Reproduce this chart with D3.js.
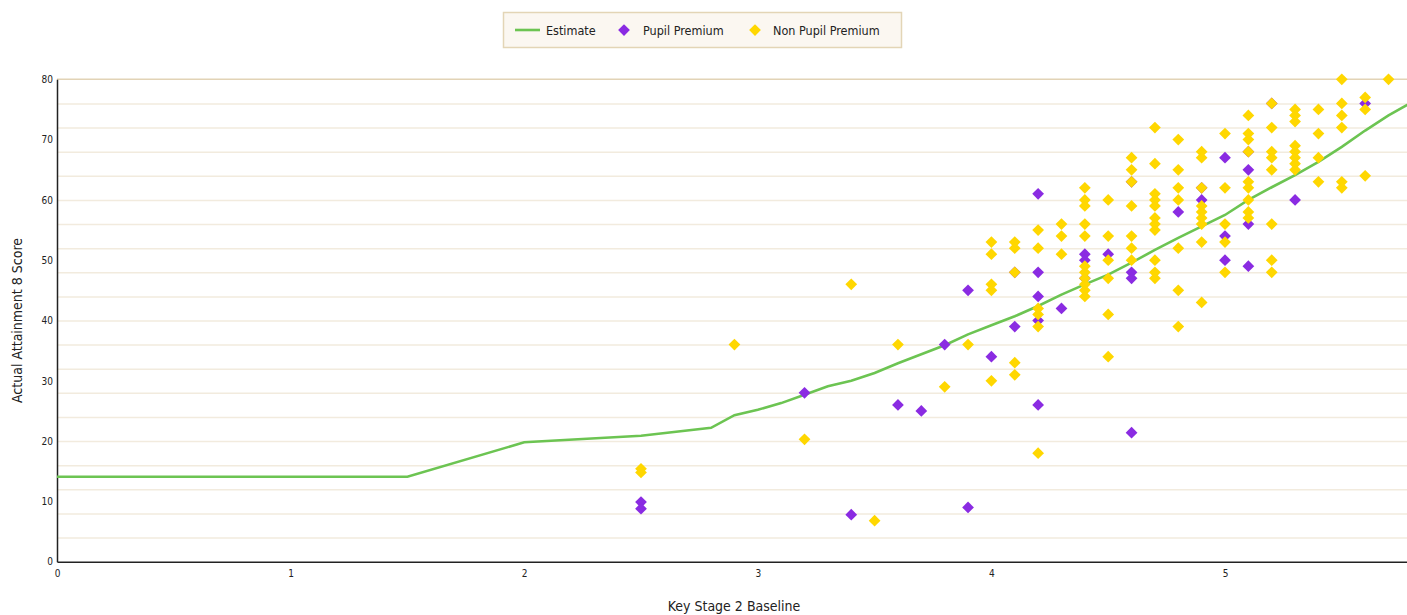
<!DOCTYPE html>
<html>
<head>
<meta charset="utf-8">
<script src="https://cdn.jsdelivr.net/npm/d3@7"></script>
<style>
  html, body { margin: 0; padding: 0; background: #fff; }
  svg { display: block; }
  .tick text { font-family: "DejaVu Sans Condensed", "DejaVu Sans", sans-serif; font-size: 10px; fill: #222; }
  .title { font-family: "DejaVu Sans Condensed", "DejaVu Sans", sans-serif; font-size: 14px; fill: #222; }
  .legend text { font-family: "DejaVu Sans Condensed", "DejaVu Sans", sans-serif; font-size: 12.5px; fill: #222; }
</style>
</head>
<body>
<svg id="chart" width="1407" height="615"></svg>
<script>
// values
var xTicks = [0, 1, 2, 3, 4, 5];
var yTicks = [0, 10, 20, 30, 40, 50, 60, 70, 80];
var gridTicks = [4, 8, 12, 16, 20, 24, 28, 32, 36, 40, 44, 48, 52, 56, 60, 64, 68, 72, 76];

var estimate = [
  [0, 14.1], [1.5, 14.1], [2.0, 19.8], [2.5, 20.9], [2.8, 22.2], [2.9, 24.3],
  [3.0, 25.2], [3.1, 26.3], [3.2, 27.7], [3.3, 29.1], [3.4, 30.0], [3.5, 31.3],
  [3.6, 32.9], [3.7, 34.4], [3.8, 35.9], [3.9, 37.7], [4.0, 39.2], [4.1, 40.7],
  [4.2, 42.4], [4.3, 44.3], [4.4, 46.0], [4.5, 47.6], [4.6, 49.6], [4.7, 51.7],
  [4.8, 53.7], [4.9, 55.6], [5.0, 57.5], [5.1, 60.0], [5.2, 62.1], [5.3, 64.1],
  [5.4, 66.3], [5.5, 68.8], [5.6, 71.5], [5.7, 74.0], [5.8, 76.2]
];

var pupilPremium = [
  [2.5, 9.9], [2.5, 8.8], [3.2, 28], [3.4, 7.8], [3.6, 26], [3.7, 25], [3.8, 36],
  [3.9, 45], [3.9, 9], [4.0, 34], [4.1, 39], [4.1, 48],
  [4.2, 61], [4.2, 48], [4.2, 44], [4.2, 40], [4.2, 26], [4.3, 42],
  [4.4, 51], [4.4, 50], [4.4, 47], [4.5, 51],
  [4.6, 63], [4.6, 48], [4.6, 47], [4.6, 21.4], [4.8, 58],
  [4.9, 62], [4.9, 60], [5.0, 67], [5.0, 54], [5.0, 50],
  [5.1, 68], [5.1, 65], [5.1, 56], [5.1, 49], [5.2, 76], [5.3, 60], [5.6, 76]
];

var nonPupilPremium = [
  [2.5, 15.4], [2.5, 14.8], [2.9, 36], [3.2, 20.3], [3.4, 46], [3.5, 6.8],
  [3.6, 36], [3.8, 29], [3.9, 36],
  [4.0, 53], [4.0, 51], [4.0, 46], [4.0, 45], [4.0, 30],
  [4.1, 53], [4.1, 52], [4.1, 48], [4.1, 33], [4.1, 31],
  [4.2, 55], [4.2, 52], [4.2, 42], [4.2, 41], [4.2, 39], [4.2, 18],
  [4.3, 56], [4.3, 54], [4.3, 51],
  [4.4, 62], [4.4, 60], [4.4, 59], [4.4, 56], [4.4, 54], [4.4, 49], [4.4, 48],
  [4.4, 47], [4.4, 46], [4.4, 45], [4.4, 44],
  [4.5, 60], [4.5, 54], [4.5, 50], [4.5, 47], [4.5, 41], [4.5, 34],
  [4.6, 67], [4.6, 65], [4.6, 63], [4.6, 59], [4.6, 54], [4.6, 52], [4.6, 50],
  [4.7, 72], [4.7, 66], [4.7, 61], [4.7, 60], [4.7, 59], [4.7, 57], [4.7, 56],
  [4.7, 55], [4.7, 50], [4.7, 48], [4.7, 47],
  [4.8, 70], [4.8, 65], [4.8, 62], [4.8, 60], [4.8, 52], [4.8, 45], [4.8, 39],
  [4.9, 68], [4.9, 67], [4.9, 62], [4.9, 59], [4.9, 58], [4.9, 57], [4.9, 56],
  [4.9, 53], [4.9, 43],
  [5.0, 71], [5.0, 62], [5.0, 56], [5.0, 53], [5.0, 48],
  [5.1, 74], [5.1, 71], [5.1, 70], [5.1, 68], [5.1, 63], [5.1, 62], [5.1, 60],
  [5.1, 58], [5.1, 57],
  [5.2, 76], [5.2, 72], [5.2, 68], [5.2, 67], [5.2, 65], [5.2, 56], [5.2, 50], [5.2, 48],
  [5.3, 75], [5.3, 74], [5.3, 73], [5.3, 69], [5.3, 68], [5.3, 67], [5.3, 66], [5.3, 65],
  [5.4, 75], [5.4, 71], [5.4, 67], [5.4, 63],
  [5.5, 80], [5.5, 76], [5.5, 74], [5.5, 72], [5.5, 63], [5.5, 62],
  [5.6, 77], [5.6, 75], [5.6, 64], [5.7, 80]
];

var seriesNames = ["Estimate", "Pupil Premium", "Non Pupil Premium"];
var colors = { line: "#6cc452", pp: "#8a2be2", npp: "#ffd700" };

var svg = d3.select("#chart");
var plotLeft = 57, plotTop = 79.3, plotBottom = 561.7;

// plot runs off the right edge in the original, so the scale goes to 6
var x = d3.scaleLinear().domain([0, 6]).range([plotLeft, plotLeft + 6 * 233.6]);
var y = d3.scaleLinear().domain([0, 80]).range([plotBottom, plotTop]);

// grid
svg.append("g")
    .attr("class", "grid")
    .attr("transform", "translate(" + plotLeft + ",0)")
    .call(d3.axisLeft(y).tickValues(gridTicks).tickSize(-(1407 - plotLeft)).tickFormat(""))
    .call(function (g) {
      g.select(".domain").remove();
      g.selectAll("line").attr("stroke", "#f2ebde").attr("stroke-width", 1.5);
    });

svg.append("line")
    .attr("x1", plotLeft).attr("x2", 1407)
    .attr("y1", y(80)).attr("y2", y(80))
    .attr("stroke", "#e2d3b6").attr("stroke-width", 1.5);

// axes
svg.append("g")
    .attr("transform", "translate(" + plotLeft + ",0)")
    .call(d3.axisLeft(y).tickValues(yTicks).tickSize(0).tickPadding(4))
    .call(function (g) {
      g.select(".domain").attr("stroke", "#222").attr("stroke-width", 1.5);
    });

svg.append("g")
    .attr("transform", "translate(0," + plotBottom + ")")
    .call(d3.axisBottom(x).tickValues(xTicks).tickFormat(d3.format("d")).tickSize(0).tickPadding(8))
    .call(function (g) {
      g.select(".domain").attr("stroke", "#222").attr("stroke-width", 1.5);
    });

svg.append("text")
    .attr("class", "title")
    .attr("transform", "translate(22," + ((plotTop + plotBottom) / 2) + ") rotate(-90)")
    .attr("text-anchor", "middle")
    .text("Actual Attainment 8 Score");

svg.append("text")
    .attr("class", "title")
    .attr("x", 734).attr("y", 611)
    .attr("text-anchor", "middle")
    .text("Key Stage 2 Baseline");

// estimate line
var line = d3.line()
    .x(function (d) { return x(d[0]); })
    .y(function (d) { return y(d[1]); });

svg.append("path")
    .datum(estimate)
    .attr("d", line)
    .attr("fill", "none")
    .attr("stroke", colors.line)
    .attr("stroke-width", 2.6);

var diamond = d3.symbol().type(d3.symbolDiamond2).size(88);

svg.append("g").selectAll("path")
    .data(pupilPremium)
    .enter().append("path")
    .attr("d", diamond)
    .attr("transform", function (d) { return "translate(" + x(d[0]) + "," + y(d[1]) + ")"; })
    .attr("fill", colors.pp);

svg.append("g").selectAll("path")
    .data(nonPupilPremium)
    .enter().append("path")
    .attr("d", diamond)
    .attr("transform", function (d) { return "translate(" + x(d[0]) + "," + y(d[1]) + ")"; })
    .attr("fill", colors.npp);

// legend
var legend = svg.append("g").attr("class", "legend");
legend.append("rect")
    .attr("x", 503.5).attr("y", 12.5).attr("width", 398).attr("height", 35)
    .attr("fill", "#fbf7f1").attr("stroke", "#e3d5b6").attr("stroke-width", 1.5);

legend.append("line")
    .attr("x1", 515).attr("x2", 540).attr("y1", 30).attr("y2", 30)
    .attr("stroke", colors.line).attr("stroke-width", 2.6);
legend.append("text").attr("x", 546).attr("y", 34.5).text(seriesNames[0]);

legend.append("path").attr("d", diamond)
    .attr("transform", "translate(624,30)").attr("fill", colors.pp);
legend.append("text").attr("x", 643).attr("y", 34.5).text(seriesNames[1]);

legend.append("path").attr("d", diamond)
    .attr("transform", "translate(755,30)").attr("fill", colors.npp);
legend.append("text").attr("x", 773).attr("y", 34.5).text(seriesNames[2]);
</script>
</body>
</html>
